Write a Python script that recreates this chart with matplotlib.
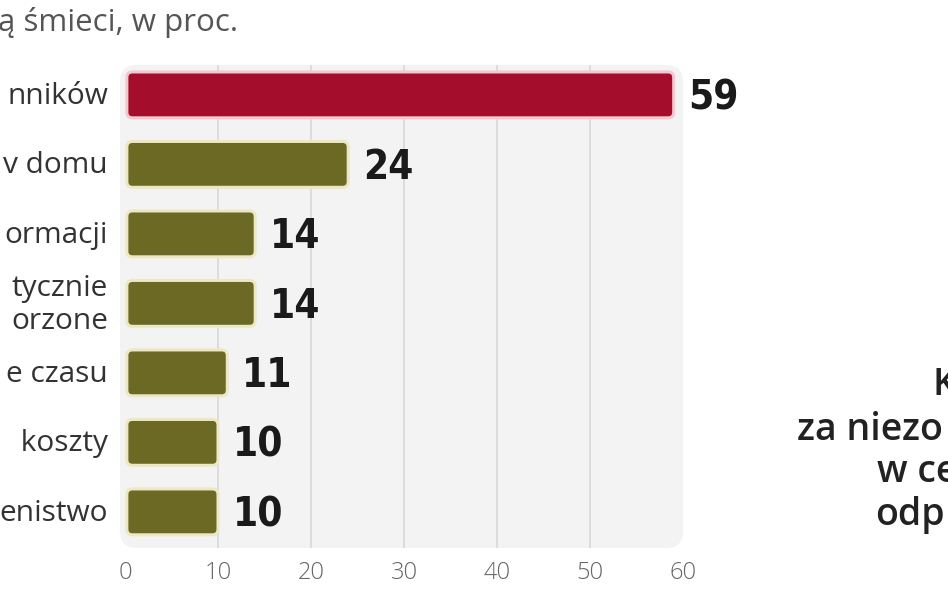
import matplotlib
matplotlib.use("Agg")
import matplotlib.pyplot as plt
from matplotlib.patches import FancyBboxPatch

# data (crop of a larger infographic)
categories = ["nników", "v domu", "ormacji", "tycznie\norzone",
              "e czasu", " koszty", "enistwo"]
values = [59, 24, 14, 14, 11, 10, 10]
highlight = [True, False, False, False, False, False, False]
xticks = [0, 10, 20, 30, 40, 50, 60]
title = "ą śmieci, w proc."
side_lines = [("K", 933, 385), ("za niezo", 797, 430),
              ("w ce", 877, 472), ("odp", 875, 515)]

RED, OLIVE = "#a50d2c", "#6b6923"
W, H = 948, 593

fig = plt.figure(figsize=(W / 100, H / 100), dpi=100)
fig.patch.set_facecolor("white")

# axes placed in pixel terms: x 0 at px 125, 60 at px 683; panel y 65..548
x0px, x60px = 125, 683
ppu = (x60px - x0px) / 60.0
left_px, right_px, top_px, bot_px = 120, 683, 65, 548
ax = fig.add_axes([left_px / W, 1 - bot_px / H,
                   (right_px - left_px) / W, (bot_px - top_px) / H])
ax.set_xlim(-(x0px - left_px) / ppu, 60)
ax.set_ylim(6.52, -0.43)
ax.axis("off")

# light panel with rounded corners
aw, ah = right_px - left_px, bot_px - top_px
ax.add_patch(FancyBboxPatch((0, 0), 1, 1, transform=ax.transAxes,
                            boxstyle="round,pad=0,rounding_size=0.03",
                            mutation_aspect=aw / ah,
                            facecolor="#f3f3f3", edgecolor="none", zorder=0))
for t in xticks[1:-1]:
    ax.axvline(t, color="#d8d8d8", lw=1.2, zorder=1)

ypu = (548 - 65) / (6.52 + 0.43)
aspect = ppu / ypu
bar_h = 0.66
for i, (v, hi) in enumerate(zip(values, highlight)):
    fc = RED if hi else OLIVE
    ec = "#f2c9cf" if hi else "#ece8c4"
    ax.add_patch(FancyBboxPatch((0.2, i - bar_h / 2), v - 0.2, bar_h,
                                boxstyle="round,pad=0,rounding_size=0.6",
                                mutation_aspect=aspect,
                                facecolor=fc, edgecolor=ec, lw=2.2, zorder=2))
    ax.text(v + 1.6, i + 0.05, str(v), ha="left", va="center",
            fontsize=29, fontweight="bold", fontstretch="condensed",
            color="#1a1a1a", family="DejaVu Sans")
    ax.text(-(x0px - 108) / ppu, i + 0.02, categories[i], ha="right",
            va="center", fontsize=21.5, color="#333333", linespacing=1.2,
            family=["Open Sans", "DejaVu Sans"])

for t in xticks:
    ax.text(t, 6.52 + 25 / ypu, str(t), ha="center", va="center",
            fontsize=17, color="#666666", clip_on=False,
            family=["Open Sans", "DejaVu Sans"], fontweight="light")

fig.text(-2 / W, 1 - 23 / H, title, ha="left", va="center", fontsize=22.5,
         color="#555555", family=["Open Sans", "DejaVu Sans"])
for txt, x, y in side_lines:
    fig.text(x / W, 1 - y / H, txt, ha="left", va="center", fontsize=27,
             color="#222222", fontweight="semibold",
             family=["Open Sans", "DejaVu Sans"])

fig.savefig("out.png", dpi=100)
